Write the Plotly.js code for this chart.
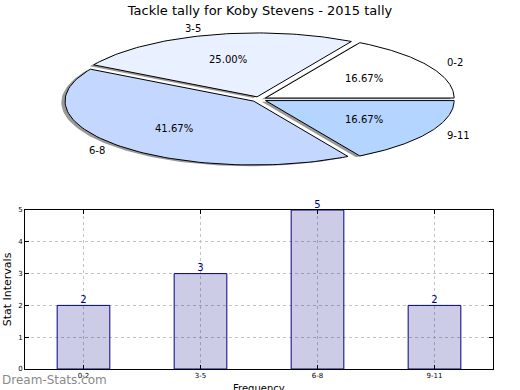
<!DOCTYPE html>
<html><head><meta charset="utf-8">
<script src="https://cdn.plot.ly/plotly-3.0.1.min.js"></script>
<style>html,body{margin:0;padding:0;background:#fff}</style>
</head><body><div id="chart" style="width:520px;height:390px"></div>
<script>
// ---- data ----
const chartTitle = 'Tackle tally for Koby Stevens - 2015 tally';
const categories = ['0-2', '3-5', '6-8', '9-11'];
const counts = [2, 3, 5, 2];
const sliceColors = ['#ffffff', '#e9f0ff', '#c4d8ff', '#b3d5ff'];
const yTickVals = [0, 1, 2, 3, 4, 5];
const yTitle = 'Stat Intervals';
const xTitle = 'Frequency';
const watermark = 'Dream-Stats.com';

// ---- geometry ----
const W = 520, H = 390, MB = 0;
const py = p => (H - MB - p) / (H - MB);   // pixel row -> paper fraction
const cxPx = 259, cyPx = 99.3, rxPx = 188.6, ryPx = 63.9, pieBottomPx = 200;
const explode = 0.04, shadowOff = 0.02;
const FONT = 'DejaVu Sans, sans-serif';

const total = counts.reduce((a, b) => a + b, 0);
const traces = [];
const annotations = [];
let start = 0;
const slices = counts.map((c, i) => {
  const frac = c / total;
  const a0 = start, a1 = start + frac * 2 * Math.PI;
  start = a1;
  return {frac, a0, a1, mid: (a0 + a1) / 2, i};
});

function slicePath(s, dx, dy) {
  const ox = explode * Math.cos(s.mid) + dx, oy = explode * Math.sin(s.mid) + dy;
  const xs = [ox], ys = [oy];
  const n = 80;
  for (let k = 0; k <= n; k++) {
    const a = s.a0 + (s.a1 - s.a0) * k / n;
    xs.push(ox + Math.cos(a)); ys.push(oy + Math.sin(a));
  }
  xs.push(ox); ys.push(oy);
  return {xs, ys};
}

// shadows
slices.forEach(s => {
  const p = slicePath(s, -shadowOff, -shadowOff);
  traces.push({type: 'scatter', mode: 'lines', x: p.xs, y: p.ys, xaxis: 'x2', yaxis: 'y2',
    fill: 'toself', fillcolor: 'rgba(0,0,0,0.4)', line: {width: 0, color: 'rgba(0,0,0,0)'},
    hoverinfo: 'skip', showlegend: false});
});
// slices
slices.forEach(s => {
  const p = slicePath(s, 0, 0);
  traces.push({type: 'scatter', mode: 'lines', x: p.xs, y: p.ys, xaxis: 'x2', yaxis: 'y2',
    fill: 'toself', fillcolor: sliceColors[s.i], line: {width: 1, color: '#000'},
    name: categories[s.i], hoverinfo: 'name', showlegend: false});
  const lr = explode + 1.1, pr = explode + 0.6;
  const lx = lr * Math.cos(s.mid), ly = lr * Math.sin(s.mid);
  annotations.push({xref: 'x2', yref: 'y2', x: lx, y: ly, text: categories[s.i], showarrow: false,
    xanchor: lx > 0 ? 'left' : 'right', yanchor: 'middle', font: {family: FONT, size: 10, color: '#000'}});
  annotations.push({xref: 'x2', yref: 'y2', x: pr * Math.cos(s.mid), y: pr * Math.sin(s.mid),
    text: (s.frac * 100).toFixed(2) + '%', showarrow: false, xanchor: 'center', yanchor: 'middle',
    font: {family: FONT, size: 10, color: '#000'}});
});

// bars
traces.push({type: 'bar', x: categories, y: counts, width: 0.45, xaxis: 'x', yaxis: 'y',
  marker: {color: 'rgba(0,0,128,0.2)', line: {color: '#00008b', width: 1}},
  hoverinfo: 'x+y', showlegend: false});
traces.push({type: 'scatter', mode: 'text', x: categories, y: counts, text: counts.map(String),
  textposition: 'top center', textfont: {family: FONT, size: 10, color: '#00008b'},
  cliponaxis: false, xaxis: 'x', yaxis: 'y', hoverinfo: 'skip', showlegend: false});

annotations.push({xref: 'paper', yref: 'paper', x: 0, y: py(380), xanchor: 'left', yanchor: 'middle',
  text: watermark, showarrow: false, font: {family: FONT, size: 12, color: '#8a8a8a'}});

const plotL = 25, plotR = 493, plotT = 210, plotB = 369;
// x-axis title placed as an annotation just below the tick labels (partly clipped, as in the reference)
annotations.push({xref: 'x domain', yref: 'paper', x: 0.5, y: py(380.5), xanchor: 'center', yanchor: 'top',
  text: xTitle, showarrow: false, font: {family: FONT, size: 10, color: '#000'}});

const layout = {
  width: W, height: H, margin: {l: 0, r: 0, t: 0, b: MB},
  paper_bgcolor: '#fff', plot_bgcolor: 'rgba(0,0,0,0)',
  font: {family: FONT, color: '#000'},
  title: {text: chartTitle, font: {family: FONT, size: 13, color: '#000'}, x: 0.5, xanchor: 'center',
    xref: 'container', yref: 'container', y: 1 - 10 / H, yanchor: 'middle'},
  xaxis: {domain: [plotL / W, plotR / W], type: 'category', range: [-0.5, categories.length - 0.5],
    showline: true, linecolor: '#000', linewidth: 1, mirror: 'ticks', ticks: 'inside', ticklen: 4,
    tickcolor: '#000', tickfont: {family: FONT, size: 7, color: '#000'},
    showgrid: true, gridcolor: '#c4c4c4', griddash: 'dot', gridwidth: 1, zeroline: false,
    automargin: false, fixedrange: true},
  yaxis: {domain: [py(plotB), py(plotT)], range: [0, 5], tickvals: yTickVals,
    showline: true, linecolor: '#000', linewidth: 1, mirror: 'ticks', ticks: 'inside', ticklen: 4,
    tickcolor: '#000', tickfont: {family: FONT, size: 7, color: '#000'},
    showgrid: true, gridcolor: '#c4c4c4', griddash: 'dot', gridwidth: 1, zeroline: false,
    title: {text: yTitle, font: {family: FONT, size: 11, color: '#000'}, standoff: 4}, automargin: false,
    fixedrange: true},
  xaxis2: {domain: [0, 1], range: [-cxPx / rxPx, (W - cxPx) / rxPx], visible: false, fixedrange: true},
  yaxis2: {domain: [py(pieBottomPx), 1], range: [-(pieBottomPx - cyPx) / ryPx, cyPx / ryPx],
    visible: false, fixedrange: true},
  annotations: annotations,
  bargap: 0.55
};
Plotly.newPlot('chart', traces, layout, {displayModeBar: false, staticPlot: true});
</script></body></html>
